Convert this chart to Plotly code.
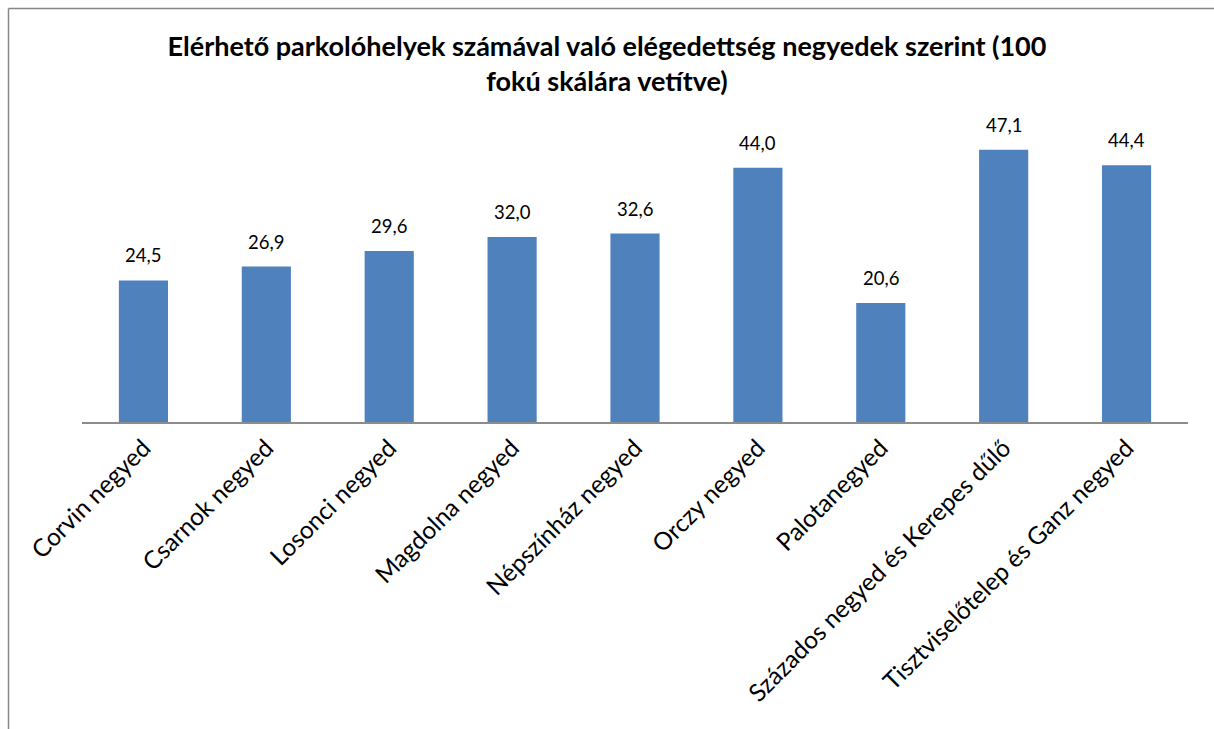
import plotly.graph_objects as go

categories = [
    "Corvin negyed",
    "Csarnok negyed",
    "Losonci negyed",
    "Magdolna negyed",
    "Népszínház negyed",
    "Orczy negyed",
    "Palotanegyed",
    "Százados negyed és Kerepes dűlő",
    "Tisztviselőtelep és Ganz negyed",
]
values = [24.5, 26.9, 29.6, 32.0, 32.6, 44.0, 20.6, 47.1, 44.4]
value_labels = [f"{v:.1f}".replace(".", ",") for v in values]
title_text = "Elérhető parkolóhelyek számával való elégedettség negyedek szerint (100<br>fokú skálára vetítve)"

BAR = "#4F81BD"
FONT = "Lato, 'Open Sans', sans-serif"

fig = go.Figure()
fig.add_trace(go.Bar(
    x=categories, y=values,
    marker=dict(color=BAR, line=dict(width=0)),
    hoverinfo="skip",
))

for c, v, t in zip(categories, values, value_labels):
    fig.add_annotation(
        x=c, y=v, text=t, showarrow=False,
        yanchor="bottom", yshift=12,
        font=dict(family=FONT, size=18.5, color="#000000"),
    )

# outer chart border
BX = (8.5 - 82) / 1106
BY = (422 - 8.5) / 289
fig.add_shape(type="line", xref="paper", yref="paper",
              x0=BX, x1=1.05, y0=BY, y1=BY,
              line=dict(color="#878787", width=1.5))
fig.add_shape(type="line", xref="paper", yref="paper",
              x0=BX, x1=BX, y0=BY, y1=-1.2,
              line=dict(color="#878787", width=1.5))

fig.update_layout(
    width=1214, height=729,
    margin=dict(l=82, r=26, t=133, b=307, autoexpand=False),
    paper_bgcolor="white", plot_bgcolor="white",
    bargap=0.6,
    showlegend=False,
    title=dict(
        text=title_text, x=0.5, xref="container", xanchor="center",
        y=1 - 56 / 729, yref="container", yanchor="top",
        font=dict(family=FONT, size=27, color="#000000", weight="bold"),
    ),
    xaxis=dict(
        tickangle=-45,
        tickfont=dict(family=FONT, size=24.5, color="#000000"),
        showline=True, linecolor="#8C8C8C", linewidth=2,
        ticks="", showgrid=False, zeroline=False, automargin=False,
    ),
    yaxis=dict(
        range=[0, 50], visible=False, showgrid=False, zeroline=False,
    ),
)

fig.write_html("out.html", config={"displayModeBar": False})
with open("out.html", "r", encoding="utf-8") as f:
    html = f.read()
html = html.replace("<body>", '<body style="margin:0;padding:0;">', 1)
with open("out.html", "w", encoding="utf-8") as f:
    f.write(html)
